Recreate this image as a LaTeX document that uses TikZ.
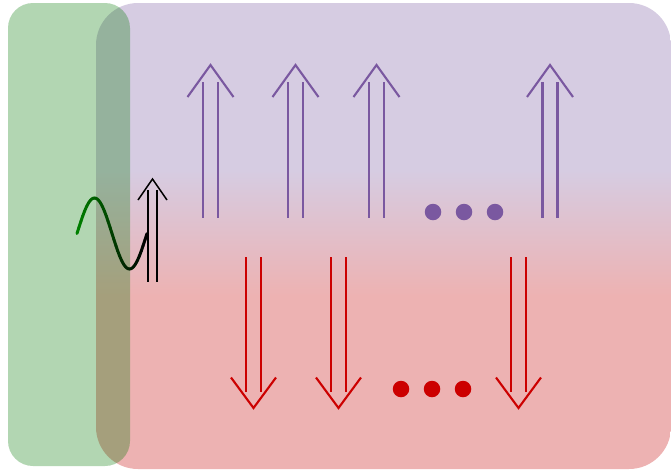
\documentclass[tikz,border=0pt]{standalone}
\usetikzlibrary{calc}
\definecolor{arrpurple}{RGB}{122,88,160}
\definecolor{bgpurple}{RGB}{214,204,226}
\definecolor{arrred}{RGB}{204,0,0}
\definecolor{bgred}{RGB}{237,178,178}
\definecolor{boxgreen}{RGB}{0,118,0}
\definecolor{wavegreen}{RGB}{0,128,0}
\tikzset{
  arrline/.style={line width=2.1pt},
  dotnode/.style={circle, inner sep=0pt, minimum size=16.5pt},
  pics/uparrow/.style={code={
    \draw[arrline,#1] (-7.5,-68) -- (-7.5,68) (7.5,-68) -- (7.5,68);
    \draw[arrline,#1] (-23,-53) -- (0,-85) -- (23,-53);
  }},
  pics/downarrow/.style={code={
    \draw[arrline,#1] (-7.5,-67.5) -- (-7.5,67.5) (7.5,-67.5) -- (7.5,67.5);
    \draw[arrline,#1] (-22.5,53) -- (0,83.5) -- (22.5,53);
  }},
  pics/smallup/.style={code={
    \draw[line width=1.5pt,#1] (-4.5,-46) -- (-4.5,46) (4.5,-46) -- (4.5,46);
    \draw[line width=1.5pt,#1] (-14.5,-36) -- (0,-57) -- (14.5,-36);
  }}
}
\begin{document}
\begin{tikzpicture}[x=1pt,y=-1pt]
\useasboundingbox (0,0) rectangle (671,472);
% big shaded box
\begin{scope}
  \clip[rounded corners=42pt] (96,3) rectangle (671,469);
  \fill[bgpurple] (90,0) rectangle (675,171);
  \shade[top color=bgpurple, bottom color=bgred] (90,170) rectangle (675,296);
  \fill[bgred] (90,295) rectangle (675,475);
\end{scope}
% green box
\fill[boxgreen, fill opacity=0.3, rounded corners=25pt] (8,3) rectangle (130,466);
% up arrows
\foreach \cx/\nm in {210.5/u1, 295.5/u2, 376.5/u3, 550/u4}{
  \pic (\nm) at (\cx,150) {uparrow=arrpurple};
}
% down arrows
\foreach \cx/\nm in {253.5/d1, 338.5/d2, 518.5/d3}{
  \pic (\nm) at (\cx,324.5) {downarrow=arrred};
}
% dots
\node[dotnode, fill=arrpurple] (pd1) at (433,212) {};
\node[dotnode, fill=arrpurple] (pd2) at (464,212) {};
\node[dotnode, fill=arrpurple] (pd3) at (495,212) {};
\node[dotnode, fill=arrred] (rd1) at (401,389) {};
\node[dotnode, fill=arrred] (rd2) at (432,389) {};
\node[dotnode, fill=arrred] (rd3) at (463,389) {};
% black arrow
\pic (bk) at (152.5,236) {smallup=black};
% sine wave
\foreach \i [evaluate=\i as \a using 77+70*\i/36,
             evaluate=\i as \b using 77+70*(\i+1)/36,
             evaluate=\i as \p using int(100-100*\i/35)] in {0,...,35}{
  \draw[line width=3pt, line cap=round, color=wavegreen!\p!black]
    plot[domain=\a:\b, samples=4, smooth] (\x,{233.5-35.5*sin((\x-77)/70*360)});
}
\end{tikzpicture}
\end{document}
